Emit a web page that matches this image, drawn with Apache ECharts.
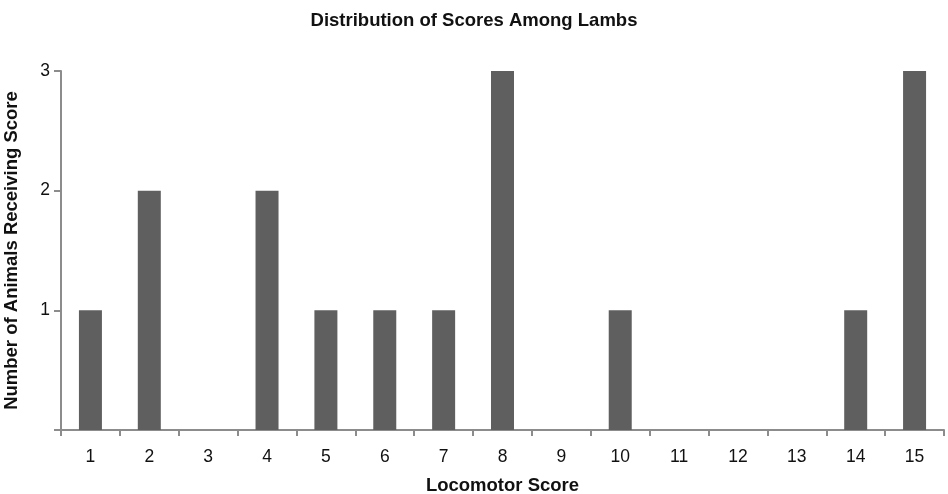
<!DOCTYPE html>
<html>
<head>
<meta charset="utf-8">
<script src="https://cdn.jsdelivr.net/npm/echarts@6/dist/echarts.min.js"></script>
<style>html,body{margin:0;padding:0;background:#fff;}#chart{width:948px;height:494px;}</style>
</head>
<body>
<div id="chart"></div>
<script>
const titleText = "Distribution of Scores Among Lambs";
const xAxisName = "Locomotor Score";
const yAxisName = "Number of Animals Receiving Score";
const categories = ["1","2","3","4","5","6","7","8","9","10","11","12","13","14","15"];
const counts = [1, 2, 0, 2, 1, 1, 1, 3, 0, 1, 0, 0, 0, 1, 3];
const yTicks = [0, 1, 2, 3];

const chart = echarts.init(document.getElementById('chart'));
const font = '"Liberation Sans", Arial, sans-serif';
chart.setOption({
  animation: false,
  backgroundColor: '#ffffff',
  title: {
    text: titleText, left: 'center', top: 6,
    textStyle: { fontFamily: font, fontSize: 18.5, fontWeight: 'bold', color: '#111' }
  },
  grid: { left: 61, right: 4, top: 71, bottom: 64, containLabel: false, outerBoundsMode: 'none' },
  xAxis: {
    type: 'category', data: categories,
    name: xAxisName, nameLocation: 'middle', nameGap: 46,
    nameTextStyle: { fontFamily: font, fontSize: 18.5, fontWeight: 'bold', color: '#111' },
    axisLine: { lineStyle: { color: '#8c8c8c', width: 2 } },
    axisTick: { show: true, length: 6, lineStyle: { color: '#8c8c8c', width: 2 } },
    axisLabel: { fontFamily: font, fontSize: 17.5, color: '#111', margin: 18 },
    splitLine: { show: false }
  },
  yAxis: {
    type: 'value', min: yTicks[0], max: yTicks[yTicks.length - 1], interval: 1,
    name: yAxisName, nameLocation: 'middle', nameGap: 40,
    nameTextStyle: { fontFamily: font, fontSize: 18.5, fontWeight: 'bold', color: '#111' },
    axisLine: { show: true, lineStyle: { color: '#8c8c8c', width: 2 } },
    axisTick: { show: true, length: 7, lineStyle: { color: '#8c8c8c', width: 2 } },
    axisLabel: {
      fontFamily: font, fontSize: 17.5, color: '#111', margin: 11,
      formatter: v => (v === 0 ? '' : String(v))
    },
    splitLine: { show: false }
  },
  series: [{
    type: 'bar', data: counts, barWidth: 23,
    itemStyle: { color: '#5f5f5f' }
  }]
});
</script>
</body>
</html>
